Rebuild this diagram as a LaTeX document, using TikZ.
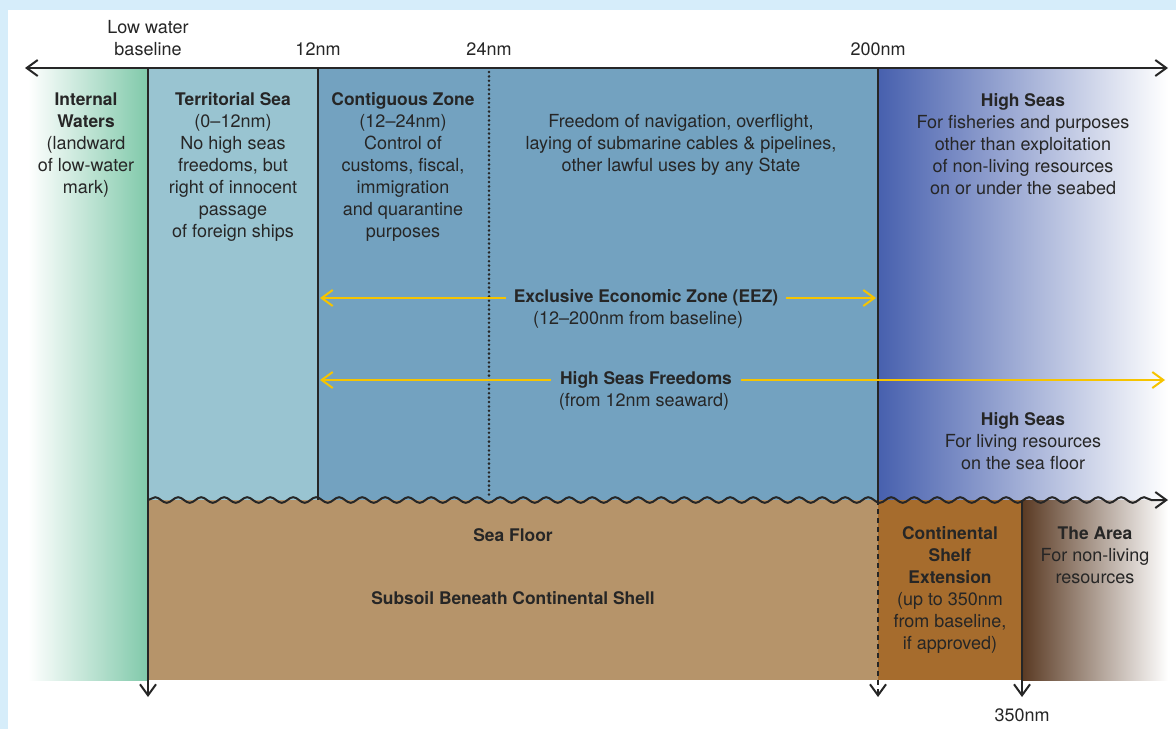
\documentclass[tikz,border=0pt]{standalone}
\usepackage{fontspec}
\setmainfont{TeX Gyre Heros}
\usetikzlibrary{arrows.meta,decorations.pathmorphing}
\definecolor{frameblue}{HTML}{D6EDFA}
\definecolor{ink}{HTML}{262626}
\definecolor{inlandgreen}{HTML}{80C9AA}
\definecolor{territorial}{HTML}{99C4D1}
\definecolor{contiguous}{HTML}{73A2C0}
\definecolor{highseas}{HTML}{4760AE}
\definecolor{seafloor}{HTML}{B6946A}
\definecolor{shelf}{HTML}{A66C2D}
\definecolor{areabrown}{HTML}{5A3A23}
\definecolor{eezyellow}{HTML}{F6C400}
\newcommand{\zonehd}[1]{{\fontsize{8.7}{11}\selectfont\bfseries #1}}

\begin{document}
\begin{tikzpicture}[x=0.5pt,y=-0.5pt,line width=1pt,>={Straight Barb[length=5.5pt,width=8pt]}]
	\fill[frameblue] (0,0) rectangle (1176,729);
	\fill[white] (8,10) rectangle (1176,729);
	\useasboundingbox (0,0) rectangle (1176,729);
	\shade[left color=white,right color=inlandgreen] (28,68) rectangle (148,680);
	\fill[territorial] (148,68) rectangle (318,500);
	\fill[contiguous] (318,68) rectangle (878,500);
	\shade[left color=highseas,right color=white] (878,68) rectangle (1168,500);
	\fill[seafloor] (148,500) rectangle (878,680);
	\fill[shelf] (878,500) rectangle (1022,680);
	\shade[left color=areabrown,right color=white] (1022,500) rectangle (1168,680);

	\coordinate (axisL)       at (25,68);
	\coordinate (axisR)       at (1168,68);
	\coordinate (base)        at (148,68);
	\coordinate (base end)    at (148,697);
	\coordinate (nm12)        at (318,68);
	\coordinate (nm12 floor)  at (318,500);
	\coordinate (nm24)        at (489,72);
	\coordinate (nm24 floor)  at (489,498);
	\coordinate (nm200)       at (878,68);
	\coordinate (nm200 floor) at (878,500);
	\coordinate (nm200 end)   at (878,697);
	\coordinate (nm350)       at (1022,500);
	\coordinate (nm350 end)   at (1022,697);
	\coordinate (floorL)      at (148,500);
	\coordinate (floorR)      at (1168,500);
	\coordinate (eezL)        at (320,298);
	\coordinate (eezR)        at (876,298);
	\coordinate (hsfL)        at (320,380);
	\coordinate (hsfR)        at (1165,380);

	\draw[ink,<->] (axisL) -- (axisR);
	\draw[ink,->] (base) -- (base end);
	\draw[ink] (nm12) -- (nm12 floor);
	\draw[ink,line width=1.4pt,line cap=round,dash pattern=on 0pt off 2.2pt] (nm24) -- (nm24 floor);
	\draw[ink] (nm200) -- (nm200 floor);
	\draw[ink,->,dash pattern=on 2.5pt off 2pt] (nm200 floor) -- (nm200 end);
	\draw[ink,->] (nm350) -- (nm350 end);
	\draw[ink,->,decorate,decoration={snake,segment length=11.5pt,amplitude=1.4pt,post length=3pt}] (floorL) -- (floorR);

	\begin{scope}
		\tikzstyle{every node}=[text=ink,align=center,inner sep=0pt,font=\fontsize{9}{11}\selectfont];
		\path (148,38.5)   node (lowwater) {Low water\\baseline};
		\path (318,49)     node (lbl12)    {12nm};
		\path (489,49)     node (lbl24)    {24nm};
		\path (878,49)     node (lbl200)   {200nm};
		\path (1022,715)   node (lbl350)   {350nm};
		\path (86,145.5)   node (internal) {\zonehd{Internal}\\\zonehd{Waters}\\(landward\\of low-water\\mark)};
		\path (233,167)    node (terrsea)  {\zonehd{Territorial Sea}\\(0--12nm)\\No high seas\\freedoms, but\\right of innocent\\passage\\of foreign ships};
		\path (403,167)    node (contig)   {\zonehd{Contiguous Zone}\\(12--24nm)\\Control of\\customs, fiscal,\\immigration\\and quarantine\\purposes};
		\path (681,144.5)  node (freedom)  {Freedom of navigation, overflight,\\laying of submarine cables \& pipelines,\\other lawful uses by any State};
		\path (1023,144)   node (hsea)     {\zonehd{High Seas}\\For fisheries and purposes\\other than exploitation\\of non-living resources\\on or under the seabed};
		\path (1023,441)   node (hsfloor)  {\zonehd{High Seas}\\For living resources\\on the sea floor};
		\path (646,298)    node[inner xsep=3.5pt] (eez) {\zonehd{Exclusive Economic Zone (EEZ)}};
		\path (638,320)    node (eeznote)  {(12--200nm from baseline)};
		\path (646,380)    node[inner xsep=4pt] (hsf) {\zonehd{High Seas Freedoms}};
		\path (644,402)    node (hsfnote)  {(from 12nm seaward)};
		\path (513,535)    node (floor)    {\zonehd{Sea Floor}};
		\path (513,598)    node (subsoil)  {\zonehd{Subsoil Beneath Continental Shell}};
		\path (950,589.5)  node (shelfext) {\zonehd{Continental}\\\zonehd{Shelf}\\\zonehd{Extension}\\(up to 350nm\\from baseline,\\if approved)};
		\path (1095,555.5) node (thearea)  {\zonehd{The Area}\\For non-living\\resources};
	\end{scope}

	\draw[eezyellow,->] (eez.west) -- (eezL);
	\draw[eezyellow,->] (eez.east) -- (eezR);
	\draw[eezyellow,->] (hsf.west) -- (hsfL);
	\draw[eezyellow,->] (hsf.east) -- (hsfR);
\end{tikzpicture}
\end{document}
